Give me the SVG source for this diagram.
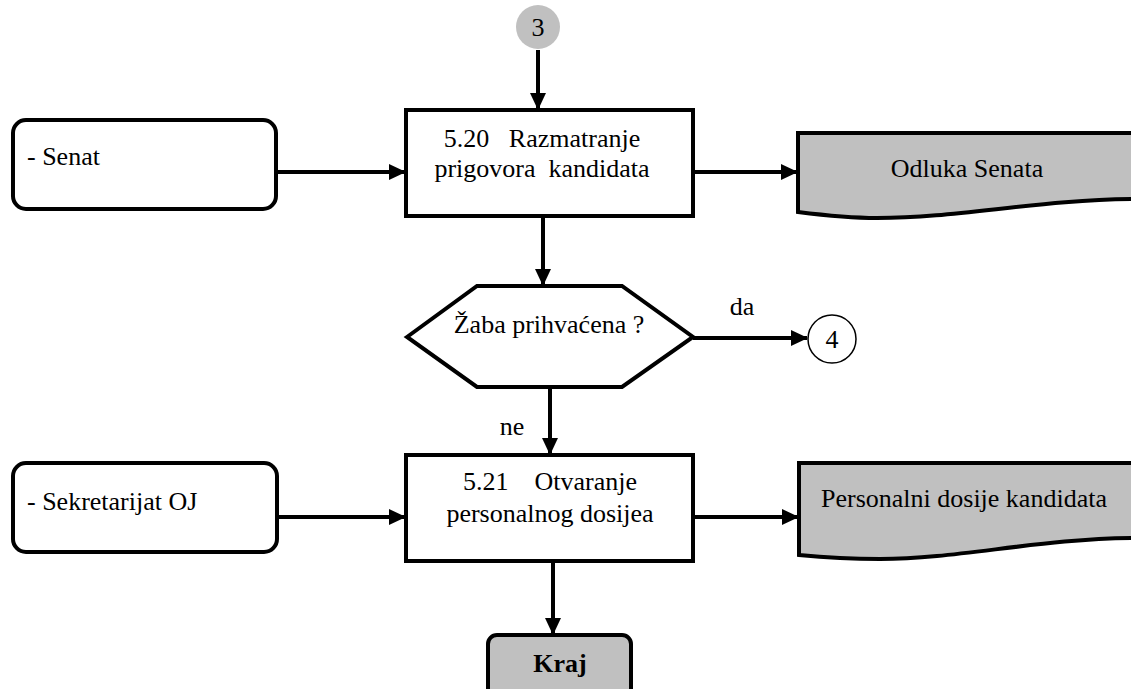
<svg xmlns="http://www.w3.org/2000/svg" width="1131" height="689" viewBox="0 0 1131 689">
<style>
text{font-family:'Liberation Serif','Times New Roman','DejaVu Serif',serif;fill:#000;font-size:26px}
.box{fill:#fff;stroke:#000;stroke-width:4}
.doc{fill:#c0c0c0;stroke:#000;stroke-width:4}
.edge{fill:none;stroke:#000;stroke-width:4}
</style>
<defs>
<marker id="arr" markerUnits="userSpaceOnUse" markerWidth="17" markerHeight="16" refX="16" refY="8" orient="auto">
<path d="M0,0 L17,8 L0,16 Z" fill="#000"/>
</marker>
</defs>
<g id="connectors">
<line class="edge" x1="538" y1="50" x2="538" y2="109" marker-end="url(#arr)"/>
<line class="edge" x1="276" y1="172" x2="405" y2="172" marker-end="url(#arr)"/>
<line class="edge" x1="693" y1="172" x2="797" y2="172" marker-end="url(#arr)"/>
<line class="edge" x1="543" y1="216" x2="543" y2="285" marker-end="url(#arr)"/>
<line class="edge" x1="693" y1="338" x2="807" y2="338" marker-end="url(#arr)"/>
<line class="edge" x1="550" y1="387" x2="550" y2="454" marker-end="url(#arr)"/>
<line class="edge" x1="277" y1="517" x2="405" y2="517" marker-end="url(#arr)"/>
<line class="edge" x1="693" y1="517" x2="798" y2="517" marker-end="url(#arr)"/>
<line class="edge" x1="553" y1="561" x2="553" y2="634" marker-end="url(#arr)"/>
<text x="742" y="315" text-anchor="middle" font-size="25">da</text>
<text x="512" y="435" text-anchor="middle" font-size="25">ne</text>
</g>
<g id="conn3">
<circle cx="538" cy="27" r="22" fill="#c0c0c0"/>
<text x="538" y="36" text-anchor="middle">3</text>
</g>
<g id="senat">
<rect class="box" x="13" y="120" width="263" height="89" rx="13"/>
<text x="27" y="165">- Senat</text>
</g>
<g id="step520">
<rect class="box" x="406" y="110" width="287" height="106"/>
<text x="542" y="147" text-anchor="middle" xml:space="preserve">5.20   Razmatranje</text>
<text x="542" y="177" text-anchor="middle" xml:space="preserve">prigovora  kandidata</text>
</g>
<g id="odluka">
<path class="doc" d="M798,212 V133 H1140 V199 C1040,199 960,218 877,218 C850,218 830,216 798,212 Z"/>
<text x="967" y="177" text-anchor="middle">Odluka Senata</text>
</g>
<g id="decision">
<polygon class="box" points="407,337 477,286 622,286 693,337 622,387 477,387"/>
<text x="549" y="333" text-anchor="middle" font-size="24">Žaba prihvaćena ?</text>
</g>
<g id="conn4">
<circle cx="832" cy="339" r="24" fill="#fff" stroke="#000" stroke-width="1.5"/>
<text x="832" y="348" text-anchor="middle">4</text>
</g>
<g id="sekretarijat">
<rect class="box" x="13" y="463" width="264" height="89" rx="13"/>
<text x="27" y="510">- Sekretarijat OJ</text>
</g>
<g id="step521">
<rect class="box" x="406" y="455" width="287" height="106"/>
<text x="550" y="490" text-anchor="middle" xml:space="preserve">5.21    Otvaranje</text>
<text x="550" y="522" text-anchor="middle">personalnog dosijea</text>
</g>
<g id="dosije">
<path class="doc" d="M799,555 V463 H1140 V538 C1040,538 960,559 880,559 C850,559 830,558 799,555 Z"/>
<text x="821" y="507">Personalni dosije kandidata</text>
</g>
<g id="kraj">
<rect x="488" y="635" width="143" height="70" rx="9" fill="#c0c0c0" stroke="#000" stroke-width="4"/>
<text x="560" y="672" text-anchor="middle" font-weight="bold" font-size="25">Kraj</text>
</g>
</svg>
